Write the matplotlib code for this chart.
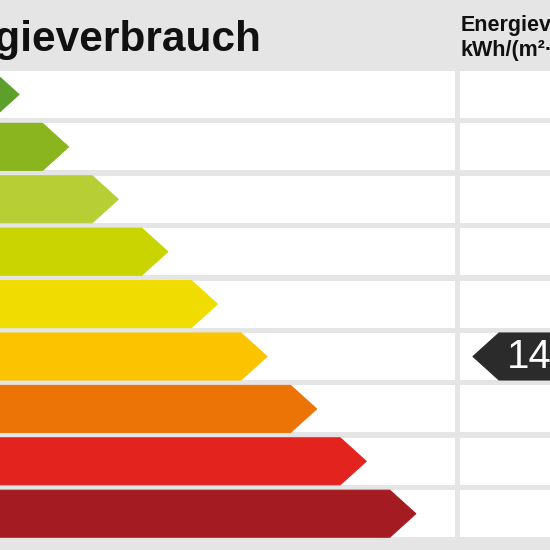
import matplotlib
matplotlib.use("Agg")
import matplotlib.pyplot as plt
from matplotlib.patches import Polygon, Rectangle

plt.rcParams["font.family"] = ["Liberation Sans", "DejaVu Sans"]

# data
classes = ["A+", "A", "B", "C", "D", "E", "F", "G", "H"]
class_colors = ["#5e9f2b", "#8ab51e", "#b7cf34", "#c9d400", "#f1dc00",
                "#fcc400", "#ec7406", "#e3241e", "#a51b22"]
marker_class = "E"
marker_label = "14"
title = "Energieverbrauch"
unit_lines = ["Energieverbrauch", "kWh/(m²·a)"]

# layout (pixels)
row_top0 = 71
pitch = 52.4
row_h = 47
tip0 = 19
tip_step = 49.6
depth = 26
col1_right = 455
col2_left = 460

fig = plt.figure(figsize=(5.5, 5.5), dpi=100)
fig.patch.set_facecolor("#e5e5e5")
ax = fig.add_axes([0, 0, 1, 1])
ax.set_xlim(0, 550)
ax.set_ylim(550, 0)
ax.axis("off")

for i, (c, col) in enumerate(zip(classes, class_colors)):
    top = row_top0 + i * pitch
    bot = top + row_h
    mid = (top + bot) / 2
    ax.add_patch(Rectangle((0, top), col1_right, row_h, color="white", lw=0))
    ax.add_patch(Rectangle((col2_left, top), 600 - col2_left, row_h, color="white", lw=0))
    tip = tip0 + i * tip_step
    pts = [(-20, top), (tip - depth, top), (tip, mid), (tip - depth, bot), (-20, bot)]
    ax.add_patch(Polygon(pts, closed=True, facecolor=col, edgecolor=col, lw=0.8,
                         joinstyle="round"))
    if c == marker_class:
        mtip = 473
        mpts = [(mtip, mid), (mtip + depth, top), (600, top), (600, bot), (mtip + depth, bot)]
        ax.add_patch(Polygon(mpts, closed=True, facecolor="#2b2b2b", edgecolor="#2b2b2b",
                             lw=0.8, joinstyle="round"))
        ax.text(507, mid + 1, marker_label, color="white", fontsize=29,
                ha="left", va="center")

ax.text(261, 51, title, fontsize=30.5, fontweight="bold", color="#111111",
        ha="right", va="baseline")
ax.text(461, 31, unit_lines[0], fontsize=15.5, fontweight="bold", color="#111111",
        ha="left", va="baseline")
ax.text(461, 56, unit_lines[1], fontsize=15.5, fontweight="bold", color="#111111",
        ha="left", va="baseline")

fig.savefig("out.png", dpi=100, facecolor=fig.get_facecolor())
